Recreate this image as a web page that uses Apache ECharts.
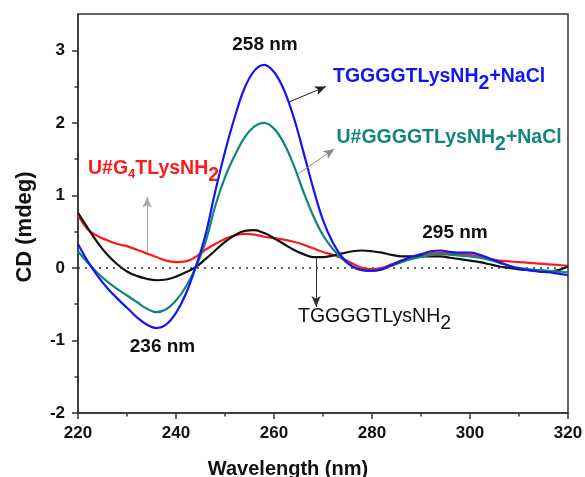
<!DOCTYPE html>
<html>
<head>
<meta charset="utf-8">
<script src="https://cdn.jsdelivr.net/npm/echarts@6/dist/echarts.min.js"></script>
<style>
html,body{margin:0;padding:0;background:#fff;}
#chart{width:585px;height:477px;}
</style>
</head>
<body>
<div id="chart"></div>
<script>
const wavelengths = [220,222,224,226,228,230,232,234,236,238,240,242,244,246,248,250,252,254,256,258,260,262,264,266,268,270,272,274,276,278,280,282,284,286,288,290,292,294,296,298,300,302,304,306,308,310,312,314,316,318,320];

const blueNaCl = [0.33,0.09,-0.11,-0.28,-0.42,-0.55,-0.68,-0.78,-0.83,-0.78,-0.62,-0.36,0.01,0.45,1.05,1.60,2.08,2.48,2.72,2.80,2.70,2.46,2.08,1.60,1.10,0.66,0.35,0.14,0.02,-0.03,-0.04,-0.02,0.04,0.10,0.15,0.19,0.23,0.24,0.22,0.21,0.21,0.18,0.13,0.08,0.03,-0.01,-0.03,-0.05,-0.06,-0.08,-0.10];

const tealNaCl = [0.23,0.07,-0.07,-0.19,-0.29,-0.38,-0.47,-0.56,-0.61,-0.57,-0.45,-0.26,0.00,0.35,0.85,1.25,1.55,1.80,1.95,2.00,1.92,1.72,1.42,1.05,0.72,0.45,0.26,0.12,0.02,-0.03,-0.04,-0.02,0.03,0.08,0.12,0.15,0.18,0.19,0.18,0.17,0.16,0.14,0.11,0.07,0.03,0.00,-0.02,-0.03,-0.04,-0.05,-0.06];

const blackPlain = [0.76,0.55,0.35,0.18,0.05,-0.05,-0.11,-0.15,-0.17,-0.16,-0.12,-0.06,0.01,0.12,0.24,0.36,0.45,0.51,0.52,0.48,0.41,0.33,0.25,0.19,0.15,0.15,0.17,0.20,0.23,0.24,0.23,0.21,0.18,0.16,0.16,0.16,0.16,0.16,0.14,0.12,0.10,0.08,0.05,0.02,0.00,-0.02,-0.03,-0.04,-0.05,-0.03,0.02];

const redPlain = [0.73,0.53,0.44,0.38,0.33,0.30,0.25,0.20,0.15,0.10,0.08,0.09,0.15,0.25,0.33,0.40,0.45,0.47,0.46,0.43,0.41,0.39,0.36,0.32,0.27,0.22,0.18,0.13,0.06,0.00,-0.02,0.00,0.05,0.10,0.14,0.17,0.20,0.21,0.20,0.19,0.18,0.15,0.12,0.10,0.09,0.08,0.07,0.06,0.05,0.04,0.03];

const yTickValues = [-2,-1,0,1,2,3];
const yMinorValues = [-1.5,-0.5,0.5,1.5,2.5];

function pairs(vals){ return wavelengths.map((w,i)=>[w, vals[i]]); }

const FONT = '"Liberation Sans", Arial, sans-serif';
const chart = echarts.init(document.getElementById('chart'), null, {renderer:'canvas'});

function lineSeries(name, vals, color, extra){
  return Object.assign({
    name, type:'line', data: pairs(vals), smooth:0.4, showSymbol:false, symbol:'none',
    lineStyle:{color, width:2.2}, itemStyle:{color}, z:3, silent:true
  }, extra||{});
}

function arrow(from, to, color, headColor){
  return [
    {coord: from, symbol:'none', lineStyle:{color, width:1, type:'solid'}},
    {coord: to, symbol:'arrow', symbolSize:[7,11], itemStyle:{color: headColor}, lineStyle:{color, width:1, type:'solid'}}
  ];
}

function rich(color, weight){
  const base = {fontSize:19.5, fontWeight:weight, fontFamily:FONT, fill:color, lineHeight:20, verticalAlign:'top'};
  return {
    m: Object.assign({}, base),
    s: Object.assign({}, base, {padding:[7,0,0,0]}),
    k: Object.assign({}, base, {fontSize:13, lineHeight:13, padding:[9,0,0,0]})
  };
}

const axisColor = '#333';

chart.setOption({
  animation:false,
  backgroundColor:'#ffffff',
  grid:{left:78, right:17, top:14, bottom:64, containLabel:false, outerBoundsMode:'none', show:true, borderColor:axisColor, borderWidth:1.5, backgroundColor:'transparent'},
  xAxis:{
    type:'value', min:220, max:320, interval:20,
    axisLine:{show:true, onZero:false, lineStyle:{color:axisColor, width:1.5}},
    axisTick:{show:true, inside:false, length:6, lineStyle:{color:axisColor, width:1.5}},
    minorTick:{show:true, splitNumber:2, length:3.5, lineStyle:{color:axisColor, width:1.5}},
    axisLabel:{fontSize:17, fontWeight:'bold', color:'#111', margin:12, fontFamily:FONT},
    splitLine:{show:false}
  },
  yAxis:[{
    type:'value', min:-2, max:3.5, interval:1,
    axisLine:{show:true, onZero:false, lineStyle:{color:axisColor, width:1.5}},
    axisTick:{show:true, length:6, customValues:yTickValues, lineStyle:{color:axisColor, width:1.5}},
    axisLabel:{fontSize:17, fontWeight:'bold', color:'#111', margin:13, fontFamily:FONT, customValues:yTickValues},
    splitLine:{show:false}
  },{
    type:'value', min:-2, max:3.5, position:'left',
    axisLine:{show:false},
    axisTick:{show:true, length:3.5, customValues:yMinorValues, lineStyle:{color:axisColor, width:1.5}},
    axisLabel:{show:false, customValues:yMinorValues},
    splitLine:{show:false}
  }],
  series:[
    lineSeries('U#G4TLysNH2', redPlain, '#ff1a1a', {
      markLine:{silent:true, symbol:['none','none'], label:{show:false},
        lineStyle:{color:'#333', type:[2,5], width:1.5},
        data:[{yAxis:0}], z:1}
    }),
    lineSeries('TGGGGTLysNH2', blackPlain, '#111111', {
      markLine:{silent:true, label:{show:false}, emphasis:{disabled:true}, z:5,
        data:[
          arrow([263.0,2.285],[270.6,2.50],'#222','#111'),
          arrow([265.0,1.30],[272.3,1.64],'#888','#111'),
          arrow([234.1,0.21],[234.1,0.98],'#aaa','#111'),
          arrow([268.6,0.14],[268.6,-0.54],'#333','#111')
        ]}
    }),
    lineSeries('U#GGGGTLysNH2+NaCl', tealNaCl, '#11857d'),
    lineSeries('TGGGGTLysNH2+NaCl', blueNaCl, '#1515f0')
  ],
  graphic:[
    {type:'text', x:25, y:227, rotation:Math.PI/2, style:{text:'CD (mdeg)', font:'bold 22px '+FONT, fill:'#111', align:'center', verticalAlign:'middle'}},
    {type:'text', x:288, y:469, style:{text:'Wavelength (nm)', font:'bold 20px '+FONT, fill:'#111', align:'center', verticalAlign:'middle'}},
    {type:'text', x:265, y:45, style:{text:'258 nm', font:'bold 19px '+FONT, fill:'#111', align:'center', verticalAlign:'middle'}},
    {type:'text', x:455, y:232.5, style:{text:'295 nm', font:'bold 19px '+FONT, fill:'#111', align:'center', verticalAlign:'middle'}},
    {type:'text', x:162.5, y:347, style:{text:'236 nm', font:'bold 19px '+FONT, fill:'#111', align:'center', verticalAlign:'middle'}},
    {type:'text', x:333, y:67, style:{text:'{m|TGGGGTLysNH}{s|2}{m|+NaCl}', rich:rich('#1515f0','bold'), fill:'#1515f0', align:'left', verticalAlign:'top'}},
    {type:'text', x:336.5, y:128, style:{text:'{m|U#GGGGTLysNH}{s|2}{m|+NaCl}', rich:rich('#11857d','bold'), fill:'#11857d', align:'left', verticalAlign:'top'}},
    {type:'text', x:88, y:159, style:{text:'{m|U#G}{k|4}{m|TLysNH}{s|2}', rich:rich('#ff1a1a','bold'), fill:'#ff1a1a', align:'left', verticalAlign:'top'}},
    {type:'text', x:298, y:307, style:{text:'{m|TGGGGTLysNH}{s|2}', rich:rich('#111','normal'), fill:'#111', align:'left', verticalAlign:'top'}}
  ]
});
</script>
</body>
</html>
